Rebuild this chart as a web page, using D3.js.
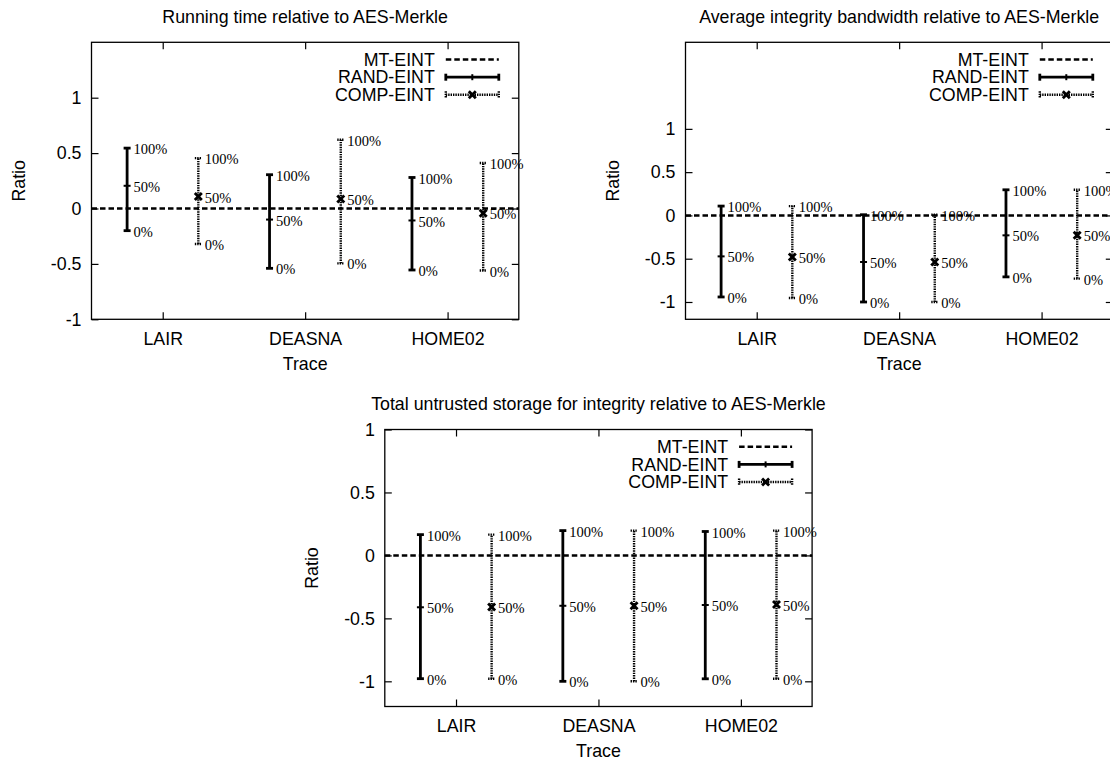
<!DOCTYPE html>
<html>
<head>
<meta charset="utf-8">
<script src="https://cdn.jsdelivr.net/npm/d3@7"></script>
<style>
  body { margin: 0; background: #fff; }
  svg { display: block; }
  text { font-family: "Liberation Sans", Arial, sans-serif; font-size: 17.8px; fill: #000; }
  .pct { font-family: "Liberation Serif", "Times New Roman", serif; font-size: 14.5px; }
  .tick line { stroke: #000; stroke-width: 1.2; }
</style>
</head>
<body>
<svg id="chart" width="1110" height="761"></svg>
<script>
const traces = ["LAIR", "DEASNA", "HOME02"];
const seriesNames = ["MT-EINT", "RAND-EINT", "COMP-EINT"];
const pctLabels = ["0%", "50%", "100%"];
const yTicks = [-1, -0.5, 0, 0.5, 1];
const titles = [
  "Running time relative to AES-Merkle",
  "Average integrity bandwidth relative to AES-Merkle",
  "Total untrusted storage for integrity relative to AES-Merkle"
];

// each row: [0%, 50%, 100%] for LAIR, DEASNA, HOME02
const timeRand = [[-0.20, 0.205, 0.545], [-0.54, -0.10, 0.305], [-0.555, -0.108, 0.28]];
const timeComp = [[-0.32, 0.108, 0.455], [-0.495, 0.085, 0.62], [-0.56, -0.042, 0.41]];
const bwRand = [[-0.942, -0.473, 0.108], [-1.0, -0.538, 0.008], [-0.71, -0.23, 0.296]];
const bwComp = [[-0.954, -0.48, 0.108], [-1.0, -0.538, 0.008], [-0.73, -0.23, 0.296]];
const storRand = [[-0.979, -0.412, 0.165], [-1.0, -0.40, 0.197], [-0.98, -0.394, 0.19]];
const storComp = [[-0.98, -0.41, 0.165], [-1.0, -0.40, 0.197], [-0.98, -0.39, 0.197]];

const svg = d3.select("#chart");

const panels = [
  {title: titles[0], rand: timeRand, comp: timeComp, yDomain: [-1, 1.5], left: 91.5, top: 42.3},
  {title: titles[1], rand: bwRand, comp: bwComp, yDomain: [-1.2, 2], left: 685.5, top: 42.3},
  {title: titles[2], rand: storRand, comp: storComp, yDomain: [-1.2, 1], left: 384.8, top: 429.5}
];
const width = 427.3, height = 277;
const dashed = "5.5,3", dotted = "1.4,1";

panels.forEach(drawPanel);

function drawPanel(p) {
  var x = d3.scalePoint().domain(traces).range([0, width]).padding(0.5);
  var y = d3.scaleLinear().domain(p.yDomain).range([height, 0]);
  var off = x.step() / 4;

  var g = svg.append("g")
      .attr("transform", "translate(" + p.left + "," + p.top + ")");

  // axes with inward ticks on all sides
  g.append("g")
      .call(d3.axisLeft(y).tickValues(yTicks).tickSize(-7).tickPadding(10).tickFormat(d => String(d)))
      .call(a => a.select(".domain").remove())
      .selectAll("text").attr("font-family", null).attr("font-size", null);

  g.append("g")
      .attr("transform", "translate(" + width + ",0)")
      .call(d3.axisRight(y).tickValues(yTicks).tickSize(-7).tickFormat(""))
      .call(a => a.select(".domain").remove());

  g.append("g")
      .call(d3.axisTop(x).tickSize(-7).tickFormat(""))
      .call(a => a.select(".domain").remove());

  g.append("g")
      .attr("transform", "translate(0," + height + ")")
      .call(d3.axisBottom(x).tickSize(-7))
      .call(a => a.select(".domain").remove())
      .selectAll("text")
        .attr("y", 19).attr("dy", "0.35em");

  g.append("rect")
      .attr("width", width)
      .attr("height", height)
      .attr("fill", "none")
      .attr("stroke", "#000")
      .attr("stroke-width", 1.3);

  // MT-EINT baseline
  g.append("line")
      .attr("x1", 0).attr("x2", width)
      .attr("y1", y(0)).attr("y2", y(0))
      .attr("stroke", "#000")
      .attr("stroke-width", 2.5)
      .attr("stroke-dasharray", dashed);

  traces.forEach((t, i) => {
    drawBar(g, x(t) - off, p.rand[i], y, false);
    drawBar(g, x(t) + off, p.comp[i], y, true);
  });

  // titles and axis labels
  g.append("text")
      .attr("x", width / 2).attr("y", -26)
      .attr("text-anchor", "middle").attr("dy", "0.35em")
      .text(p.title);

  g.append("text")
      .attr("x", width / 2).attr("y", height + 44)
      .attr("text-anchor", "middle").attr("dy", "0.35em")
      .text("Trace");

  g.append("text")
      .attr("transform", "translate(-73," + height / 2 + ") rotate(-90)")
      .attr("text-anchor", "middle").attr("dy", "0.35em")
      .text("Ratio");

  // legend
  var lx1 = width - 73, lx2 = width - 20, lmid = (lx1 + lx2) / 2;
  seriesNames.forEach((name, k) => {
    var ly = 17.3 + k * 17.6;
    g.append("text")
        .attr("x", width - 84).attr("y", ly)
        .attr("text-anchor", "end").attr("dy", "0.35em")
        .text(name);
    if (k === 0) {
      seg(g, lx1, ly, lx2, ly, 2.5, dashed);
    } else if (k === 1) {
      seg(g, lx1, ly, lx2, ly, 2.8);
      seg(g, lx1, ly - 3.5, lx1, ly + 3.5, 2.8);
      seg(g, lx2, ly - 3.5, lx2, ly + 3.5, 2.8);
      seg(g, lmid, ly - 3, lmid, ly + 3, 2);
    } else {
      seg(g, lx1, ly, lx2, ly, 2.4, dotted);
      seg(g, lx1, ly - 3.5, lx1, ly + 3.5, 2.4, dotted);
      seg(g, lx2, ly - 3.5, lx2, ly + 3.5, 2.4, dotted);
      cross(g, lmid, ly);
    }
  });
}

function seg(g, x1, y1, x2, y2, w, dash) {
  return g.append("line")
      .attr("x1", x1).attr("y1", y1)
      .attr("x2", x2).attr("y2", y2)
      .attr("stroke", "#000")
      .attr("stroke-width", w)
      .attr("stroke-dasharray", dash || null);
}

function cross(g, cx, cy) {
  var s = 3.5;
  seg(g, cx - s, cy - s, cx + s, cy + s, 2.8);
  seg(g, cx - s, cy + s, cx + s, cy - s, 2.8);
}

function drawBar(g, cx, vals, y, isComp) {
  var lo = y(vals[0]), mid = y(vals[1]), hi = y(vals[2]);
  var w = isComp ? 2.4 : 2.8, dash = isComp ? dotted : null;
  seg(g, cx, lo, cx, hi, w, dash);
  seg(g, cx - 3.5, lo, cx + 3.5, lo, w, dash);
  seg(g, cx - 3.5, hi, cx + 3.5, hi, w, dash);
  if (isComp) cross(g, cx, mid);
  else seg(g, cx - 3.5, mid, cx + 3.5, mid, 2);

  vals.forEach((v, k) => {
    g.append("text")
        .attr("class", "pct")
        .attr("x", cx + 6.5)
        .attr("y", y(v) + 1)
        .attr("dy", "0.35em")
        .text(pctLabels[k]);
  });
}
</script>
</body>
</html>
